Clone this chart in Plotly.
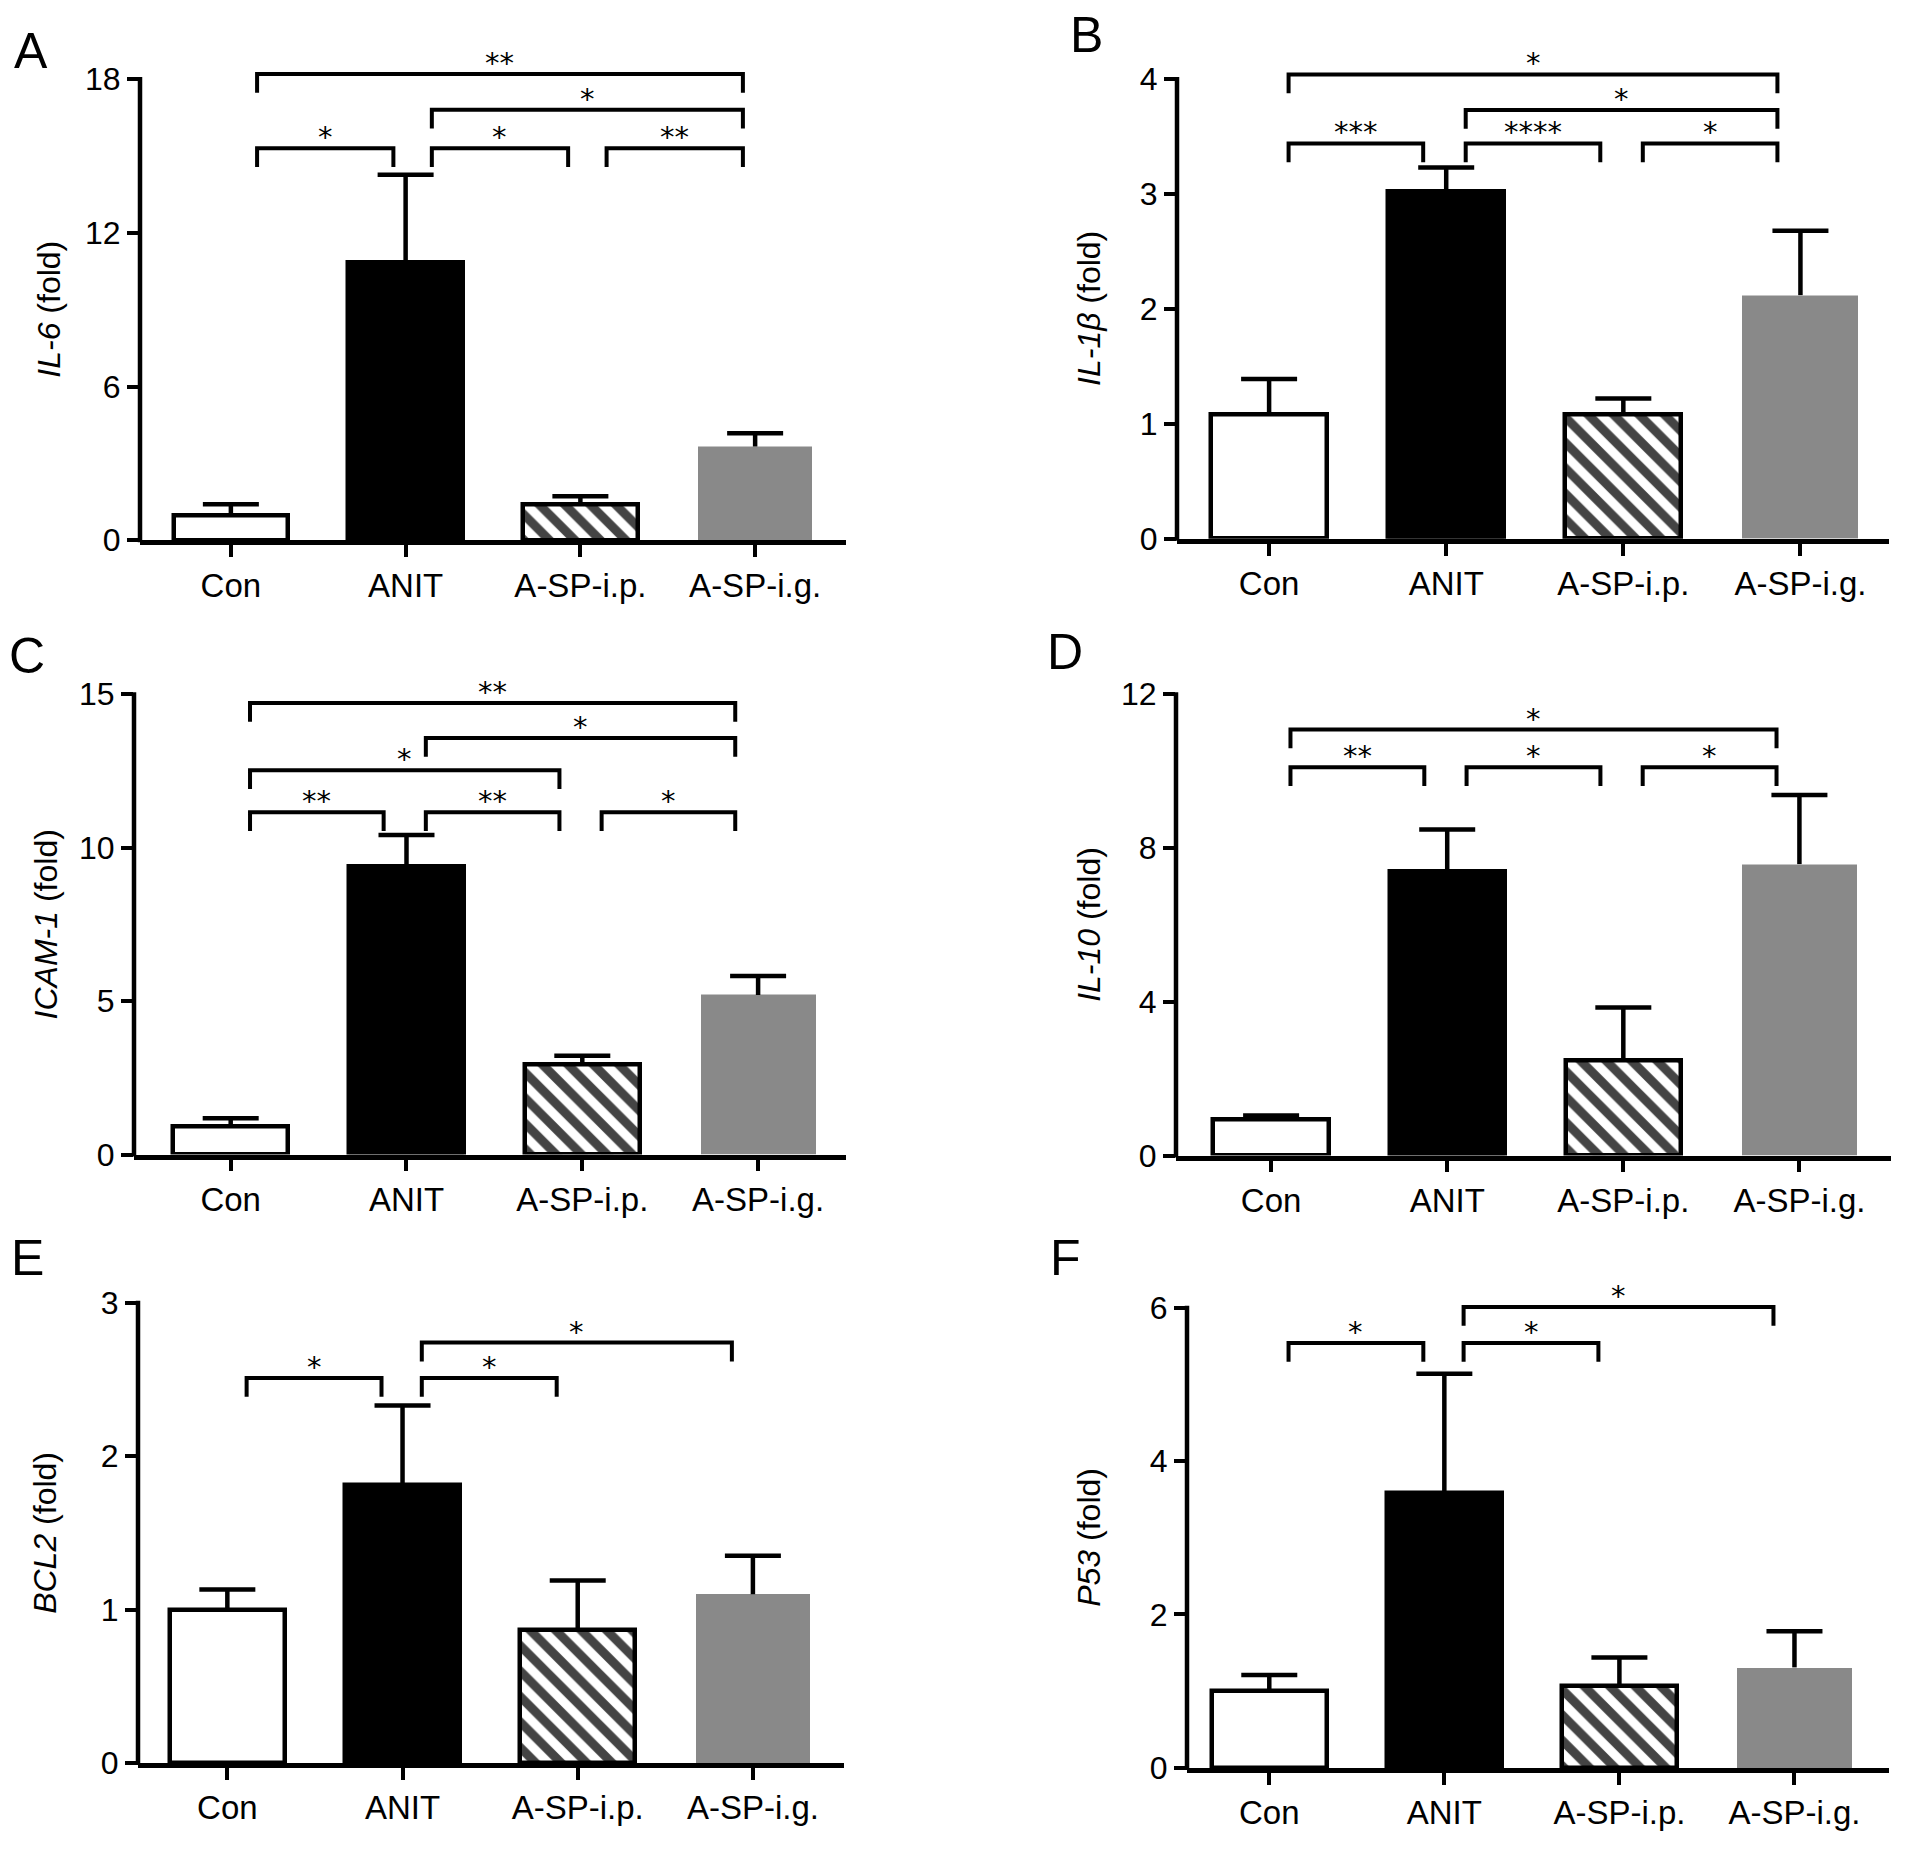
import plotly.graph_objects as go

W, H = 1913, 1858

groups = ["Con", "ANIT", "A-SP-i.p.", "A-SP-i.g."]

# mean fold change and upper error bar
il6 = [0.97, 10.85, 1.42, 3.66]
il6_err = [0.44, 3.42, 0.30, 0.52]
il1b = [1.08, 3.02, 1.08, 2.12]
il1b_err = [0.31, 0.21, 0.14, 0.56]
icam1 = [0.91, 9.38, 2.92, 5.20]
icam1_err = [0.27, 1.03, 0.30, 0.62]
il10 = [0.93, 7.40, 2.47, 7.58]
il10_err = [0.11, 1.08, 1.38, 1.80]
bcl2 = [1.00, 1.81, 0.87, 1.10]
bcl2_err = [0.13, 0.52, 0.32, 0.25]
p53 = [1.00, 3.58, 1.07, 1.31]
p53_err = [0.21, 1.56, 0.37, 0.47]

# significance brackets: (left group, right group, label)
sig_il6 = [(0, 3, "**"), (1, 3, "*"), (0, 1, "*"), (1, 2, "*"), (2, 3, "**")]
sig_il1b = [(0, 3, "*"), (1, 3, "*"), (0, 1, "***"), (1, 2, "****"), (2, 3, "*")]
sig_icam1 = [(0, 3, "**"), (1, 3, "*"), (0, 2, "*"), (0, 1, "**"), (1, 2, "**"), (2, 3, "*")]
sig_il10 = [(0, 3, "*"), (0, 1, "**"), (1, 2, "*"), (2, 3, "*")]
sig_bcl2 = [(1, 3, "*"), (0, 1, "*"), (1, 2, "*")]
sig_p53 = [(1, 3, "*"), (0, 1, "*"), (1, 2, "*")]

# bracket heights (axis units)
lev_il6 = [18.2, 16.8, 15.3, 15.3, 15.3]
lev_il1b = [4.04, 3.73, 3.44, 3.44, 3.44]
lev_icam1 = [14.71, 13.57, 12.52, 11.15, 11.15, 11.15]
lev_il10 = [11.08, 10.1, 10.1, 10.1]
lev_bcl2 = [2.74, 2.51, 2.51]
lev_p53 = [6.01, 5.54, 5.54]

panels = [
    dict(letter="A", gene="IL-6", y=il6, e=il6_err, sig=sig_il6, lev=lev_il6,
         top=18, dt=6, x0=140, x1=846, y0=542, yt=75, ptop=50,
         xr=(-0.52, 3.52), tx=49, lx=31, ly=47, dl=0.15, dr=0.07),
    dict(letter="B", gene="IL-1β", y=il1b, e=il1b_err, sig=sig_il1b, lev=lev_il1b,
         top=4, dt=1, x0=1177, x1=1889, y0=540.5, yt=75, ptop=50,
         xr=(-0.52, 3.50), tx=1089, lx=1086, ly=30, dl=0.11, dr=0.13),
    dict(letter="C", gene="ICAM-1", y=icam1, e=icam1_err, sig=sig_icam1, lev=lev_icam1,
         top=15, dt=5, x0=134, x1=846, y0=1164, yt=697.8, ptop=685,
         xr=(-0.55, 3.50), tx=46, lx=27, ly=659, dl=0.11, dr=0.13),
    dict(letter="D", gene="IL-10", y=il10, e=il10_err, sig=sig_il10, lev=lev_il10,
         top=12, dt=4, x0=1176, x1=1891, y0=1165, yt=697.8, ptop=685,
         xr=(-0.54, 3.52), tx=1089, lx=1065, ly=655, dl=0.11, dr=0.13),
    dict(letter="E", gene="BCL2", y=bcl2, e=bcl2_err, sig=sig_bcl2, lev=lev_bcl2,
         top=3, dt=1, x0=138, x1=844, y0=1780, yt=1314, ptop=1300,
         xr=(-0.51, 3.52), tx=45, lx=27, ly=1269, dl=0.11, dr=0.12),
    dict(letter="F", gene="P53", y=p53, e=p53_err, sig=sig_p53, lev=lev_p53,
         top=6, dt=2, x0=1187, x1=1889, y0=1785, yt=1319, ptop=1300,
         xr=(-0.47, 3.54), tx=1089, lx=1065, ly=1269, dl=0.11, dr=0.12),
]

FONT = "Liberation Sans, Arial"
STAR_FONT = "DejaVu Sans, Liberation Sans"

fig = go.Figure()
shapes = []
annots = []

for k, p in enumerate(panels, start=1):
    xa = "x" if k == 1 else f"x{k}"
    ya = "y" if k == 1 else f"y{k}"
    ppu = (p["y0"] - p["yt"]) / p["top"]
    rtop = p["top"] + (p["yt"] - p["ptop"]) / ppu
    xppu = (p["x1"] - p["x0"]) / (p["xr"][1] - p["xr"][0])

    fig.add_trace(go.Bar(
        x=[0, 1, 2, 3], y=p["y"], width=0.655, xaxis=xa, yaxis=ya,
        marker=dict(color=["white", "black", "white", "#898989"],
                    line=dict(color="black", width=[4.5, 4.5, 4.5, 0]),
                    pattern=dict(shape=["", "", "\\", ""], fgcolor="black",
                                 bgcolor="white", fgopacity=1, size=18,
                                 solidity=0.5)),
        showlegend=False, hoverinfo="skip"))

    # error bars: upward stem + top cap only
    tops = [m + s for m, s in zip(p["y"], p["e"])]
    fig.add_trace(go.Scatter(
        x=[0, 1, 2, 3], y=tops, mode="markers", xaxis=xa, yaxis=ya,
        marker=dict(size=0.1, color="black", opacity=0),
        error_y=dict(type="data", symmetric=False, array=[0, 0, 0, 0],
                     arrayminus=p["e"], color="black", thickness=4.5, width=0),
        error_x=dict(type="constant", value=28 / xppu, color="black",
                     thickness=4.5, width=0),
        showlegend=False, hoverinfo="skip"))

    leg = 19 / ppu
    for (i, j, lab), lv in zip(p["sig"], p["lev"]):
        xl = i + p["dl"]
        xr = j - p["dr"]
        fig.add_trace(go.Scatter(
            x=[xl, xl, xr, xr], y=[lv - leg, lv, lv, lv - leg], mode="lines",
            line=dict(color="black", width=4), xaxis=xa, yaxis=ya,
            showlegend=False, hoverinfo="skip"))
        annots.append(dict(x=(xl + xr) / 2, y=lv, xref=xa, yref=ya, text=lab,
                           showarrow=False, yanchor="bottom", yshift=-8,
                           font=dict(family=STAR_FONT, size=29, color="black")))

    dom_x = [p["x0"] / W, p["x1"] / W]
    dom_y = [1 - p["y0"] / H, 1 - p["ptop"] / H]
    fig.update_layout(**{
        ("xaxis" if k == 1 else f"xaxis{k}"): dict(
            domain=dom_x, anchor=ya, range=list(p["xr"]),
            tickvals=[0, 1, 2, 3], ticktext=groups, ticks="outside",
            ticklen=12, tickwidth=4, tickcolor="black", showline=True,
            linewidth=4.5, linecolor="black", showgrid=False, zeroline=False,
            tickfont=dict(family=FONT, size=33, color="black"),
            ticklabelstandoff=0, fixedrange=True),
        ("yaxis" if k == 1 else f"yaxis{k}"): dict(
            domain=dom_y, anchor=xa, range=[0, rtop],
            tickvals=list(range(0, p["top"] + 1, p["dt"])), ticks="outside",
            ticklen=12, tickwidth=4, tickcolor="black", showline=False,
            showgrid=False, zeroline=False,
            tickfont=dict(family=FONT, size=32, color="black"), fixedrange=True),
    })

    # y axis line only up to the top tick
    shapes.append(dict(type="line", xref="paper", yref="paper",
                       x0=p["x0"] / W, x1=p["x0"] / W,
                       y0=1 - (p["y0"] + 2) / H, y1=1 - (p["yt"] - 2) / H,
                       line=dict(color="black", width=4.5)))

    annots.append(dict(x=p["tx"] / W, y=1 - (p["y0"] + p["yt"]) / 2 / H,
                       xref="paper", yref="paper", textangle=-90,
                       text=f"<i>{p['gene']}</i> (fold)", showarrow=False,
                       xanchor="center", yanchor="middle",
                       font=dict(family=FONT, size=32, color="black")))
    annots.append(dict(x=p["lx"] / W, y=1 - p["ly"] / H, xref="paper", yref="paper",
                       text=p["letter"], showarrow=False,
                       xanchor="center", yanchor="middle",
                       font=dict(family=FONT, size=50, color="black")))

fig.update_layout(width=W, height=H, autosize=False,
                  margin=dict(l=0, r=0, t=0, b=0),
                  paper_bgcolor="white", plot_bgcolor="white",
                  bargap=0, shapes=shapes, annotations=annots)

fig.write_html("out.html", config={"displayModeBar": False},
               post_script="document.body.style.margin='0';")
